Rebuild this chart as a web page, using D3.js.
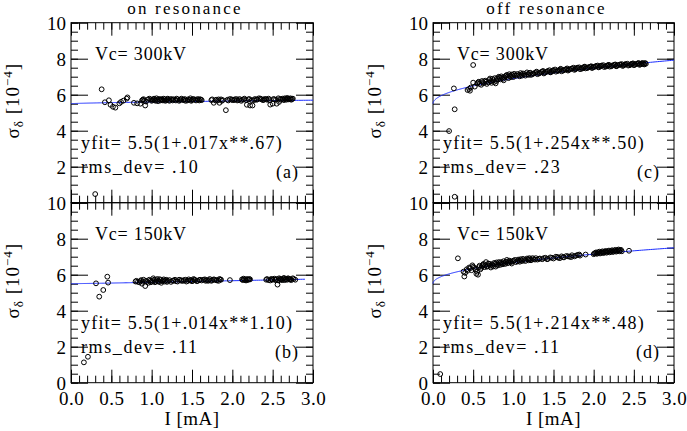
<!DOCTYPE html>
<html><head><meta charset="utf-8">
<script src="https://cdn.jsdelivr.net/npm/d3@7"></script>
<style>
body{margin:0;background:#fff;}
svg text{font-family:"Liberation Serif",serif;fill:#000;}
</style></head>
<body><svg id="c" width="687" height="431"></svg>
<script>
// ---------- data ----------
const xTicks = [0.0,0.5,1.0,1.5,2.0,2.5,3.0];
const yTicksTop = [2,4,6,8,10];
const yTicksBottom = [0,2,4,6,8,10];
const titles = ["on resonance","off resonance"];
const panelTags = ["(a)","(b)","(c)","(d)"];
const vcLabels = ["Vc= 300kV","Vc= 150kV","Vc= 300kV","Vc= 150kV"];
const fitLabels = ["yfit= 5.5(1+.017x**.67)","yfit= 5.5(1+.014x**1.10)","yfit= 5.5(1+.254x**.50)","yfit= 5.5(1+.214x**.48)"];
const rmsLabels = ["rms_dev= .10","rms_dev= .11","rms_dev= .23","rms_dev= .11"];
const fitA = [5.5,5.5,5.5,5.5];
const fitB = [0.017,0.014,0.254,0.214];
const fitP = [0.67,1.10,0.50,0.48];
const fitXmax = [3.0,2.9,3.0,3.0];

const aI = [0.30,0.38,0.42,0.47,0.49,0.52,0.55,0.60,0.62,0.65,0.69,0.70,0.78,0.82,0.86,0.92,
0.88,0.90,0.93,0.95,0.97,1.00,1.02,1.04,1.06,1.08,1.10,1.12,1.14,1.16,1.18,1.20,1.22,1.25,1.27,1.30,1.32,1.35,1.37,1.40,1.42,1.45,1.48,1.50,1.52,1.55,1.58,1.60,1.62,
1.74,1.77,1.80,1.82,1.84,1.86,1.88,1.92,1.94,1.97,2.00,2.03,2.06,2.09,2.12,2.15,2.18,2.20,2.22,2.24,2.25,2.28,2.30,2.33,2.36,2.38,2.40,2.43,2.45,2.47,2.50,2.52,2.55,2.57,2.58,2.60,2.62,2.64,2.66,2.68,2.70,2.72,2.74,
0.89,0.91,0.99,1.01,1.03,1.05,1.07,1.09,1.11,1.13,1.15,1.17,1.19,1.21,1.24,1.26,1.29,1.31,1.34,1.36,1.39,1.41,1.44,1.47,1.49,1.51,1.54,1.57,1.59,1.61,1.75,1.79,1.83,1.87,1.95,1.99,2.02,2.05,2.08,2.11,2.14,2.17,2.21,2.27,2.31,2.35,2.39,2.42,2.46,2.51,2.54,2.59,2.63,2.65,2.67,2.69,2.71,2.73,2.75];
const aS = [0.48,6.30,5.58,5.69,5.44,5.33,5.28,5.52,5.60,5.67,5.78,5.85,5.55,5.52,5.50,5.40,
5.68,5.75,5.62,5.72,5.78,5.66,5.74,5.70,5.80,5.64,5.72,5.76,5.68,5.74,5.70,5.78,5.66,5.72,5.75,5.68,5.74,5.70,5.78,5.72,5.66,5.74,5.80,5.70,5.76,5.68,5.72,5.75,5.70,
5.70,5.55,5.72,5.68,5.55,5.74,5.70,5.14,5.72,5.76,5.70,5.74,5.68,5.76,5.72,5.78,5.44,5.74,5.40,5.70,5.40,5.76,5.72,5.80,5.74,5.70,5.76,5.72,5.78,5.45,5.50,5.74,5.50,5.80,5.60,5.72,5.78,5.70,5.76,5.82,5.74,5.80,5.76,
5.72,5.66,5.74,5.70,5.78,5.66,5.72,5.76,5.68,5.72,5.78,5.66,5.74,5.70,5.76,5.68,5.72,5.78,5.66,5.74,5.70,5.76,5.68,5.72,5.66,5.74,5.72,5.76,5.68,5.72,5.74,5.68,5.74,5.66,5.68,5.74,5.70,5.76,5.70,5.66,5.74,5.70,5.76,5.70,5.74,5.78,5.72,5.76,5.70,5.76,5.72,5.76,5.74,5.80,5.72,5.78,5.76,5.72,5.78];

const bI = [0.16,0.21,0.31,0.35,0.40,0.45,0.46,
0.80,0.83,0.86,0.88,0.90,0.92,0.94,0.96,0.98,1.00,1.02,1.04,1.06,1.08,1.10,1.12,1.14,1.16,1.18,1.20,1.24,1.27,1.30,1.34,1.37,1.40,1.43,1.46,1.48,1.50,1.52,1.54,1.57,1.60,1.62,1.66,1.68,1.70,1.72,1.75,1.78,1.81,1.84,1.86,
1.97,2.12,2.14,2.16,2.18,2.20,2.22,
2.42,2.45,2.48,2.50,2.52,2.54,2.56,2.58,2.60,2.62,2.64,2.66,2.68,2.70,2.72,2.75,2.78,
0.81,0.85,0.87,0.89,0.93,0.97,0.99,1.01,1.03,1.05,1.07,1.09,1.11,1.13,1.15,1.17,1.19,1.22,1.26,1.29,1.32,1.36,1.39,1.42,1.45,1.49,1.51,1.53,1.56,1.59,1.64,1.67,1.71,1.74,1.77,1.80,1.83,1.85,2.13,2.15,2.17,2.19,2.21,2.43,2.47,2.49,2.53,2.55,2.57,2.59,2.61,2.63,2.65,2.67,2.69,2.71,2.73,2.76];
const bS = [1.13,1.44,5.52,4.78,5.15,5.89,5.56,
5.62,5.60,5.65,5.50,5.72,5.37,5.60,5.55,5.66,5.62,5.80,5.58,5.70,5.64,5.75,5.55,5.68,5.62,5.72,5.66,5.60,5.68,5.64,5.72,5.66,5.70,5.62,5.74,5.68,5.64,5.76,5.70,5.66,5.72,5.68,5.74,5.70,5.66,5.76,5.70,5.72,5.68,5.76,5.72,
5.70,5.74,5.78,5.70,5.76,5.72,5.74,
5.72,5.70,5.76,5.72,5.78,5.70,5.45,5.80,5.74,5.70,5.82,5.76,5.72,5.78,5.74,5.80,5.72,
5.66,5.58,5.70,5.62,5.66,5.72,5.58,5.66,5.72,5.62,5.76,5.60,5.70,5.64,5.74,5.66,5.60,5.70,5.66,5.72,5.62,5.70,5.66,5.72,5.66,5.70,5.66,5.72,5.64,5.70,5.72,5.66,5.70,5.66,5.74,5.70,5.66,5.74,5.70,5.74,5.68,5.72,5.76,5.76,5.68,5.74,5.72,5.76,5.68,5.76,5.72,5.78,5.70,5.76,5.80,5.74,5.70,5.76];

const cI = [0.20,0.27,0.27,0.26,0.50,0.43,0.45,0.47,0.50,0.46,0.52,
0.55,0.57,0.60,0.62,0.65,0.67,0.70,0.72,0.74,0.76,0.78,0.80,0.82,0.84,0.86,0.88,0.90,0.92,0.94,0.96,0.98,1.00,1.02,1.05,1.08,1.10,1.12,1.15,1.18,1.20,1.22,1.25,1.28,1.30,1.33,1.36,1.38,1.40,1.43,1.46,1.48,1.50,1.53,1.56,1.58,1.60,1.63,1.66,1.68,1.70,1.73,1.76,1.78,1.80,1.83,1.86,1.88,1.90,1.93,1.96,1.98,2.00,2.03,2.06,2.08,2.10,2.13,2.16,2.18,2.20,2.23,2.26,2.28,2.30,2.33,2.36,2.38,2.40,2.43,2.46,2.48,2.50,2.52,2.55,2.57,2.59,2.61,2.63,2.65,
0.56,0.58,0.61,0.63,0.66,0.69,0.71,0.73,0.75,0.77,0.79,0.81,0.83,0.85,0.87,0.89,0.91,0.93,0.95,0.97,0.99,1.01,1.04,1.07,1.09,1.11,1.14,1.17,1.19,1.21,1.24,1.27,1.29,1.32,1.35,1.37,1.39,1.42,1.45,1.47,1.49,1.52,1.55,1.57,1.59,1.62,1.65,1.67,1.69,1.72,1.75,1.77,1.79,1.82,1.85,1.87,1.89,1.92,1.95,1.97,1.99,2.02,2.05,2.07,2.09,2.12,2.15,2.17,2.19,2.22,2.25,2.27,2.29,2.32,2.35,2.37,2.39,2.42,2.45,2.47,2.49,2.51,2.54,2.56,2.58,2.60,2.62,2.64];
const cS = [3.98,0.33,5.19,6.35,7.65,6.26,6.32,6.40,6.67,6.22,6.45,
6.62,6.72,6.55,6.70,6.78,6.60,6.82,6.75,6.88,6.70,6.63,6.92,7.00,6.85,6.95,6.80,7.02,7.10,6.92,7.05,7.12,6.98,7.08,7.15,7.02,7.12,7.18,7.06,7.14,7.20,7.10,7.18,7.24,7.14,7.22,7.28,7.18,7.26,7.32,7.24,7.30,7.36,7.28,7.34,7.40,7.30,7.38,7.42,7.34,7.40,7.46,7.38,7.44,7.50,7.42,7.48,7.54,7.46,7.52,7.56,7.48,7.54,7.60,7.52,7.58,7.62,7.54,7.60,7.64,7.56,7.62,7.66,7.58,7.64,7.68,7.60,7.66,7.70,7.62,7.68,7.72,7.64,7.70,7.74,7.66,7.72,7.76,7.68,7.72,
6.68,6.60,6.76,6.64,6.72,6.68,6.90,6.66,6.80,6.92,6.76,6.86,6.94,7.02,6.88,6.96,7.06,7.00,7.14,6.98,7.08,7.16,7.06,7.10,7.20,7.06,7.14,7.24,7.10,7.22,7.14,7.20,7.28,7.18,7.26,7.32,7.22,7.28,7.36,7.26,7.34,7.40,7.32,7.36,7.44,7.34,7.40,7.46,7.38,7.44,7.50,7.42,7.48,7.52,7.44,7.50,7.56,7.48,7.54,7.58,7.52,7.56,7.62,7.54,7.60,7.64,7.56,7.62,7.66,7.58,7.64,7.68,7.60,7.66,7.70,7.62,7.68,7.72,7.64,7.70,7.74,7.66,7.72,7.76,7.68,7.74,7.70,7.76];

const dI = [0.09,0.31,0.38,0.39,0.42,0.45,0.48,0.50,0.53,0.55,0.56,0.58,0.60,0.62,0.64,0.66,0.68,0.70,0.72,0.74,0.76,0.78,0.80,0.82,0.84,0.86,0.88,0.90,0.92,0.94,0.96,0.98,1.00,1.03,1.06,1.08,1.10,1.12,1.15,1.18,1.20,1.22,1.25,1.28,1.30,1.33,1.36,1.40,1.43,1.46,1.50,1.53,1.56,1.60,1.63,1.66,1.70,1.73,1.76,1.80,1.83,1.90,2.00,2.02,2.04,2.06,2.08,2.10,2.12,2.14,2.16,2.18,2.20,2.22,2.24,2.26,2.28,2.30,2.32,2.34,2.44,
0.40,0.43,0.46,0.49,0.51,0.54,0.57,0.59,0.61,0.63,0.65,0.67,0.69,0.71,0.73,0.75,0.77,0.79,0.81,0.83,0.85,0.87,0.89,0.91,0.93,0.95,0.97,0.99,1.02,1.05,1.07,1.09,1.11,1.14,1.17,1.19,1.21,1.24,1.27,1.32,1.38,1.42,1.48,1.55,1.58,1.62,1.68,1.72,1.78,1.82,2.01,2.03,2.05,2.07,2.09,2.11,2.13,2.15,2.17,2.19,2.21,2.23,2.25,2.27,2.29,2.31,2.33,2.35];
const dS = [0.48,6.91,6.17,5.90,6.30,6.40,6.25,6.45,6.30,6.17,6.00,6.50,6.38,6.55,6.42,6.70,6.48,6.60,6.40,6.52,6.65,6.45,6.58,6.70,6.55,6.62,6.75,6.60,6.82,6.68,6.74,6.62,6.78,6.70,6.84,6.72,6.80,6.88,6.76,6.85,6.92,6.80,6.86,6.92,6.84,6.90,6.86,6.94,6.88,6.96,6.90,7.00,6.94,7.02,6.96,7.04,7.00,7.08,7.02,7.10,7.06,7.12,7.14,7.20,7.16,7.24,7.18,7.26,7.20,7.28,7.22,7.30,7.24,7.32,7.26,7.34,7.28,7.36,7.30,7.38,7.33,
6.10,6.22,6.35,6.52,6.38,6.05,6.42,6.30,6.48,6.60,6.52,6.44,6.62,6.50,6.58,6.46,6.60,6.68,6.52,6.64,6.70,6.58,6.66,6.72,6.64,6.78,6.70,6.74,6.82,6.74,6.78,6.86,6.76,6.82,6.90,6.80,6.86,6.92,6.84,6.88,6.92,6.86,6.94,6.98,6.92,6.98,7.02,6.98,7.06,7.12,7.18,7.24,7.20,7.28,7.22,7.30,7.24,7.32,7.26,7.34,7.28,7.36,7.30,7.38,7.32,7.40,7.34,7.30];

// ---------- layout ----------
const svg = d3.select("#c");
const colX = [[71,313],[433,674]];
const rowY = [[22.7,202.7],[202.7,382.7]];
const panels = [
  {col:0,row:0,I:aI,S:aS},
  {col:0,row:1,I:bI,S:bS},
  {col:1,row:0,I:cI,S:cS},
  {col:1,row:1,I:dI,S:dS}
];
const minorX = d3.range(0,3.0001,0.1).map(v=>+v.toFixed(2));
const minorY = d3.range(0,10.0001,0.5).map(v=>+v.toFixed(2));

panels.forEach((p,i)=>{
  const [x0,x1]=colX[p.col], [y0,y1]=rowY[p.row];
  const x=d3.scaleLinear().domain([0,3]).range([x0,x1]);
  const y=d3.scaleLinear().domain([0,10]).range([y1,y0]);
  const g=svg.append("g");
  const tickStyle = sel=>{sel.select(".domain").remove();sel.selectAll("line").attr("stroke","#000").attr("stroke-width",1);};
  // minor ticks
  g.append("g").attr("transform",`translate(${x0},0)`).call(d3.axisLeft(y).tickValues(minorY).tickSize(-7).tickFormat("")).call(tickStyle);
  g.append("g").attr("transform",`translate(${x1},0)`).call(d3.axisRight(y).tickValues(minorY).tickSize(-7).tickFormat("")).call(tickStyle);
  g.append("g").attr("transform",`translate(0,${y1})`).call(d3.axisBottom(x).tickValues(minorX).tickSize(-7).tickFormat("")).call(tickStyle);
  g.append("g").attr("transform",`translate(0,${y0})`).call(d3.axisTop(x).tickValues(minorX).tickSize(-7).tickFormat("")).call(tickStyle);
  // major ticks
  const yv = p.row===0 ? yTicksTop : yTicksBottom;
  g.append("g").attr("transform",`translate(${x0},0)`).call(d3.axisLeft(y).tickValues(yTicksBottom).tickSize(-17).tickFormat("")).call(tickStyle);
  const yl=g.append("g").attr("transform",`translate(${x0},0)`).call(d3.axisLeft(y).tickValues(yv).tickSize(0).tickPadding(5).tickFormat(d3.format("d"))).call(tickStyle);
  yl.selectAll("text").style("font-size","19px").attr("font-family",null).attr("dy","0.34em");
  g.append("g").attr("transform",`translate(${x1},0)`).call(d3.axisRight(y).tickValues(yTicksBottom).tickSize(-17).tickFormat("")).call(tickStyle);
  const xb=g.append("g").attr("transform",`translate(0,${y1})`).call(d3.axisBottom(x).tickValues(xTicks).tickSize(-13).tickPadding(9).tickFormat(p.row===1?d3.format(".1f"):"")).call(tickStyle);
  xb.selectAll("text").style("font-size","19px").style("letter-spacing","0.5px").attr("font-family",null);
  g.append("g").attr("transform",`translate(0,${y0})`).call(d3.axisTop(x).tickValues(xTicks).tickSize(-13).tickFormat("")).call(tickStyle);
  // frame
  g.append("rect").attr("x",x0).attr("y",y0).attr("width",x1-x0).attr("height",y1-y0).attr("fill","none").attr("stroke","#000").attr("stroke-width",1);
  // fit line
  const fx = d3.range(0,201).map(k=>fitXmax[i]*Math.pow(k/200,2));
  const line=d3.line().x(v=>x(v)).y(v=>y(fitA[i]*(1+fitB[i]*Math.pow(v,fitP[i]))));
  g.append("path").datum(fx).attr("d",line).attr("fill","none").attr("stroke","#1a2cff").attr("stroke-width",1);
  // points
  g.selectAll("circle.pt").data(p.I.map((v,k)=>[v,p.S[k]])).join("circle")
    .attr("cx",d=>x(d[0])).attr("cy",d=>y(d[1])).attr("r",2.4)
    .attr("fill","none").attr("stroke","#000").attr("stroke-width",1);
  // annotations
  const ann=(t,xx,yy,anchor,ls)=>g.append("text").attr("x",xx).attr("y",yy).attr("text-anchor",anchor||"start").style("font-size","18px").style("letter-spacing",(ls||1.3)+"px").text(t);
  ann(vcLabels[i],x0+24,y0+37,"start",0.8);
  ann(fitLabels[i],x0+10,y0+126,"start",1.2);
  ann(rmsLabels[i],x0+10,y0+150,"start",1.6);
  ann(panelTags[i],x1-14,y0+155,"end",1);
  // y label
  const cy=(y0+y1)/2-12, cx=x0-52;
  const t=svg.append("text").attr("transform",`translate(${cx},${cy}) rotate(-90)`).attr("text-anchor","middle").style("font-size","19px").style("letter-spacing","1px");
  t.append("tspan").text("σ");
  t.append("tspan").attr("dy",4).style("font-size","13px").text("δ");
  t.append("tspan").attr("dy",-4).text("  [10");
  t.append("tspan").attr("dy",-7).style("font-size","13px").text("−4");
  t.append("tspan").attr("dy",7).text("]");
  if(p.row===1){
    svg.append("text").attr("x",(x0+x1)/2).attr("y",425).attr("text-anchor","middle").style("font-size","19px").style("letter-spacing","0.5px").text("I [mA]");
  } else {
    svg.append("text").attr("x",(x0+x1)/2-7).attr("y",14).attr("text-anchor","middle").style("font-size","17px").style("letter-spacing","2.2px").text(titles[p.col]);
  }
});
</script></body></html>
